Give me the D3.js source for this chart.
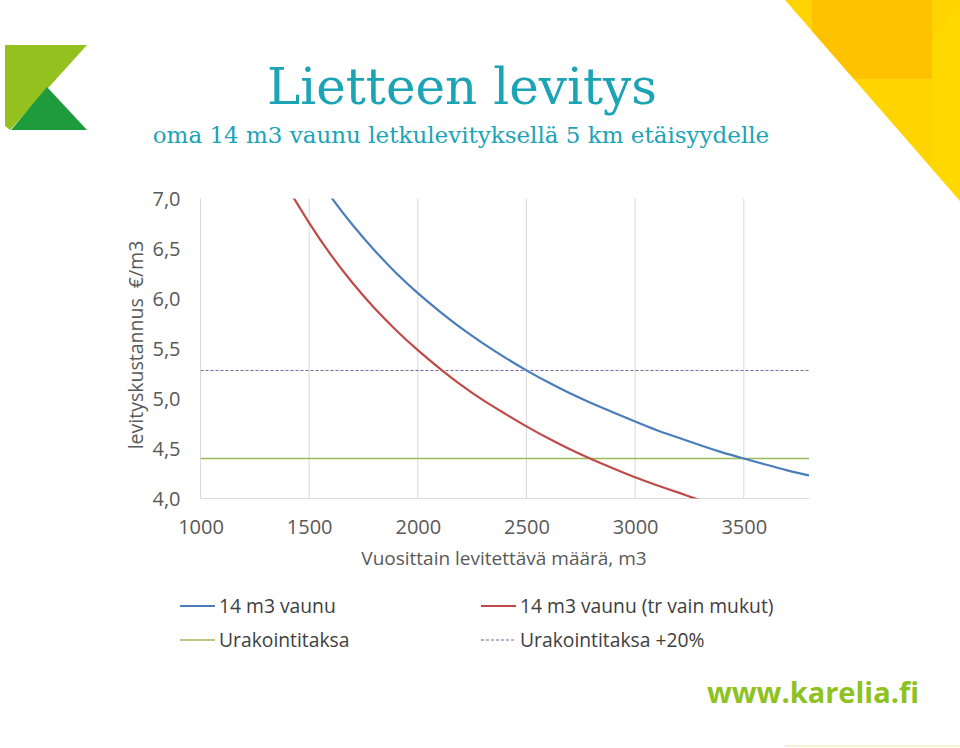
<!DOCTYPE html>
<html><head><meta charset="utf-8">
<script src="https://cdn.jsdelivr.net/npm/d3@7"></script>
<style>html,body{margin:0;padding:0;background:#fff;}svg{display:block;}</style>
</head><body>
<svg id="c" width="960" height="748"></svg>
<script>
// ---- data ----
const xTicks = [1000, 1500, 2000, 2500, 3000, 3500];
const yTicks = [4.0, 4.5, 5.0, 5.5, 6.0, 6.5, 7.0];
const blueX = [1500,1600,1700,1800,1900,2000,2100,2200,2300,2400,2500,2600,2700,2800,2900,3000,3100,3200,3300,3400,3500,3600,3700,3800];
const blueY = [7.33,7.01,6.73,6.48,6.25,6.05,5.87,5.70,5.55,5.41,5.28,5.16,5.05,4.95,4.86,4.77,4.68,4.61,4.53,4.46,4.40,4.34,4.28,4.23];
const redX = [1400,1500,1600,1700,1800,1900,2000,2100,2200,2300,2400,2500,2600,2700,2800,2900,3000,3100,3200,3300,3400];
const redY = [7.11,6.75,6.43,6.15,5.90,5.68,5.48,5.30,5.13,4.98,4.85,4.72,4.60,4.49,4.39,4.30,4.21,4.13,4.06,3.98,3.92];
const taksaX = [1000, 3800];
const taksaY = [4.40, 4.40];
const taksa20Y = [5.28, 5.28];
const legendLabels = ["14 m3 vaunu", "14 m3 vaunu (tr vain mukut)", "Urakointitaksa", "Urakointitaksa +20%"];
const titleText = "Lietteen levitys";
const subtitleText = "oma 14 m3 vaunu letkulevityksellä 5 km etäisyydelle";
const yTitle = "levityskustannus  €/m3";
const xTitle = "Vuosittain levitettävä määrä, m3";

const svg = d3.select("#c");
const font = "'Open Sans', sans-serif";

// ---- decorations ----
svg.append("polygon").attr("points","785,0 960,0 960,201").attr("fill","#FFD400");
svg.append("clipPath").attr("id","tri").append("polygon").attr("points","785,0 960,0 960,201");
svg.append("rect").attr("x",812).attr("y",0).attr("width",120).attr("height",79).attr("fill","#FFC200").attr("clip-path","url(#tri)");
svg.append("polygon").attr("points","932,40 960,0 960,201 932,170").attr("fill","#FFDA00").attr("clip-path","url(#tri)").attr("opacity",0.6);
svg.append("line").attr("x1",785).attr("x2",960).attr("y1",746).attr("y2",746).attr("stroke","#f6f1d6").attr("stroke-width",2);
// logo
svg.append("polygon").attr("points","5,45 87,45 10,130 5,126").attr("fill","#95C11F");
svg.append("polygon").attr("points","47,87 87,130 11,130").attr("fill","#1E9B3C");

// titles
svg.append("text").attr("x",462).attr("y",104).attr("text-anchor","middle")
  .attr("font-family","'DejaVu Serif', 'Liberation Serif', serif").attr("font-size",50).attr("fill","#1BA3B6").text(titleText);
svg.append("text").attr("x",461).attr("y",143).attr("text-anchor","middle")
  .attr("font-family","'DejaVu Serif', 'Liberation Serif', serif").attr("font-size",23).attr("fill","#1BA3B6").text(subtitleText);

// url
svg.append("text").attr("x",813).attr("y",703).attr("text-anchor","middle")
  .attr("font-family","'Open Sans', sans-serif").attr("font-weight","bold").attr("font-size",29).attr("fill","#8DC21F").text("www.karelia.fi");

// ---- chart ----
const x = d3.scaleLinear().domain([1000, 3800]).range([200.5, 809]);
const y = d3.scaleLinear().domain([4, 7]).range([498.5, 198.5]);

const g = svg.append("g");
g.selectAll("line.grid").data(xTicks).join("line")
  .attr("x1", d => x(d)).attr("x2", d => x(d)).attr("y1", y(7)).attr("y2", y(4))
  .attr("stroke", "#d9d9d9").attr("stroke-width", 1);
g.append("line").attr("x1", x(1000)).attr("x2", x(3800)).attr("y1", y(4)).attr("y2", y(4))
  .attr("stroke", "#d9d9d9").attr("stroke-width", 1);

const xAxis = d3.axisBottom(x).tickValues(xTicks).tickSize(0).tickPadding(0).tickFormat(d3.format("d"));
const xa = svg.append("g").attr("transform", `translate(0,${y(4)+35})`).call(xAxis);
xa.select(".domain").remove();
xa.selectAll("text").attr("font-family", font).attr("font-size", 20).attr("fill", "#595959").attr("dy", "0");

const fmt = d => d.toFixed(1).replace(".", ",");
const yAxis = d3.axisLeft(y).tickValues(yTicks).tickSize(0).tickPadding(20).tickFormat(fmt);
const ya = svg.append("g").attr("transform", `translate(${x(1000)},0)`).call(yAxis);
ya.select(".domain").remove();
ya.selectAll("text").attr("font-family", font).attr("font-size", 20).attr("fill", "#595959").attr("dy", "0.35em");

svg.append("text").attr("transform", "translate(143,345) rotate(-90)").attr("text-anchor","middle")
  .attr("font-family", font).attr("font-size", 19.5).attr("fill", "#595959").style("white-space","pre").text(yTitle);
svg.append("text").attr("x", 504).attr("y", 565).attr("text-anchor","middle")
  .attr("font-family", font).attr("font-size", 19).attr("fill", "#595959").text(xTitle);

svg.append("clipPath").attr("id","plot").append("rect")
  .attr("x", x(1000)).attr("y", y(7)).attr("width", x(3800)-x(1000)).attr("height", y(4)-y(7));

const line = d3.line().x(d => x(d[0])).y(d => y(d[1])).curve(d3.curveBasis);
const lines = svg.append("g").attr("clip-path","url(#plot)");
lines.append("path").datum(taksaX.map((v,i)=>[v,taksa20Y[i]])).attr("d", line)
  .attr("fill","none").attr("stroke","#7b61a0").attr("stroke-width",1.2).attr("stroke-dasharray","3,2");
lines.append("path").datum(taksaX.map((v,i)=>[v,taksaY[i]])).attr("d", line)
  .attr("fill","none").attr("stroke","#9bbb59").attr("stroke-width",1.5);
lines.append("path").datum(redX.map((v,i)=>[v,redY[i]])).attr("d", line)
  .attr("fill","none").attr("stroke","#be4b48").attr("stroke-width",2.2);
lines.append("path").datum(blueX.map((v,i)=>[v,blueY[i]])).attr("d", line)
  .attr("fill","none").attr("stroke","#4a7ebb").attr("stroke-width",2.2);

// legend
const leg = [
  {x:180, y:606, color:"#4a7ebb", w:2, dash:null, label:legendLabels[0]},
  {x:481, y:606, color:"#be4b48", w:2, dash:null, label:legendLabels[1]},
  {x:180, y:640, color:"#9bbb59", w:1.5, dash:null, label:legendLabels[2]},
  {x:481, y:640, color:"#7b61a0", w:1.2, dash:"3,2", label:legendLabels[3]}
];
const lg = svg.append("g").selectAll("g").data(leg).join("g");
lg.append("line").attr("x1", d=>d.x).attr("x2", d=>d.x+35).attr("y1", d=>d.y).attr("y2", d=>d.y)
  .attr("stroke", d=>d.color).attr("stroke-width", d=>d.w).attr("stroke-dasharray", d=>d.dash);
lg.append("text").attr("x", d=>d.x+39).attr("y", d=>d.y).attr("dy","0.35em")
  .attr("font-family", font).attr("font-size", 19.3).attr("fill","#404040").text(d=>d.label);
</script>
</body></html>
